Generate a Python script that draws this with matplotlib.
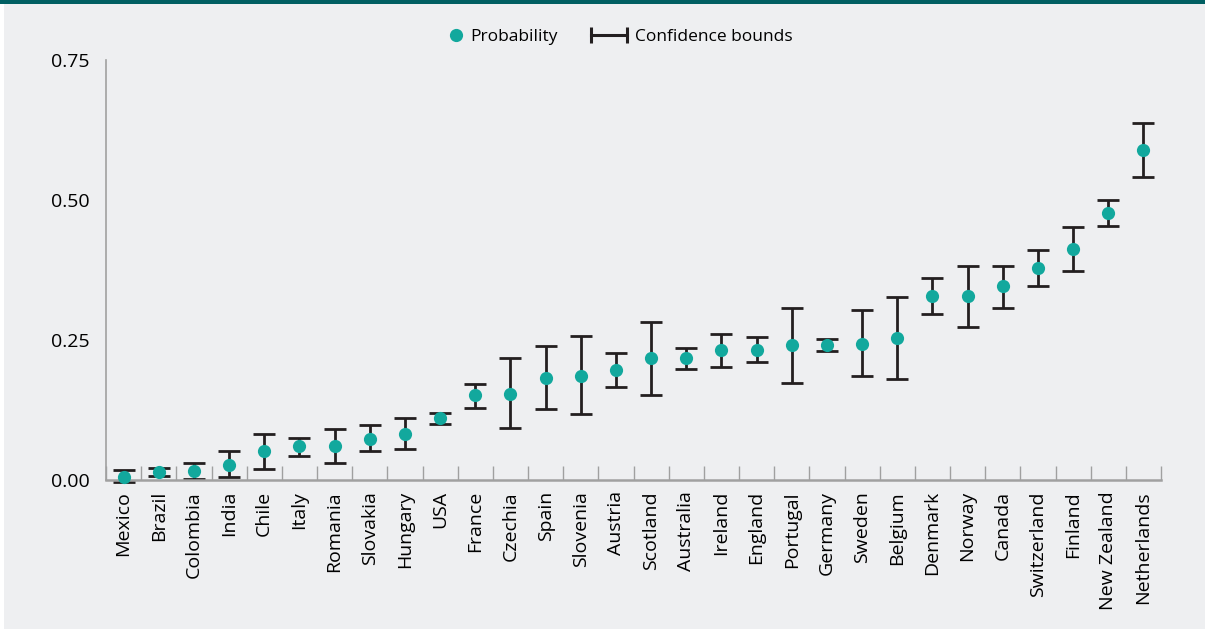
import matplotlib.pyplot as plt
from matplotlib.lines import Line2D
from matplotlib.patches import Rectangle
from matplotlib.legend_handler import HandlerLine2D

plt.rcParams['font.family'] = ['Open Sans', 'DejaVu Sans']

# data
countries = ['Mexico', 'Brazil', 'Colombia', 'India', 'Chile', 'Italy', 'Romania',
             'Slovakia', 'Hungary', 'USA', 'France', 'Czechia', 'Spain', 'Slovenia',
             'Austria', 'Scotland', 'Australia', 'Ireland', 'England', 'Portugal',
             'Germany', 'Sweden', 'Belgium', 'Denmark', 'Norway', 'Canada',
             'Switzerland', 'Finland', 'New Zealand', 'Netherlands']
prob  = [0.006, 0.015, 0.016, 0.027, 0.051, 0.060, 0.060, 0.074, 0.083, 0.110,
         0.151, 0.154, 0.183, 0.186, 0.196, 0.217, 0.218, 0.232, 0.233, 0.241,
         0.241, 0.243, 0.254, 0.329, 0.329, 0.346, 0.378, 0.412, 0.476, 0.589]
lower = [-0.004, 0.008, 0.002, 0.006, 0.019, 0.043, 0.030, 0.052, 0.055, 0.100,
         0.129, 0.092, 0.126, 0.118, 0.166, 0.152, 0.199, 0.201, 0.210, 0.174,
         0.230, 0.185, 0.181, 0.296, 0.274, 0.308, 0.346, 0.373, 0.453, 0.541]
upper = [0.017, 0.022, 0.030, 0.051, 0.083, 0.075, 0.091, 0.098, 0.111, 0.120,
         0.171, 0.217, 0.240, 0.257, 0.227, 0.283, 0.236, 0.261, 0.255, 0.308,
         0.252, 0.304, 0.326, 0.360, 0.383, 0.383, 0.410, 0.452, 0.500, 0.638]
yticks = [0.0, 0.25, 0.50, 0.75]

TEAL = '#12a89d'
DARK = '#231f20'
BG = '#eeeff1'
AXC = '#a0a0a0'

fig = plt.figure(figsize=(12.05, 6.31), dpi=100, facecolor='white')
# grey panel and teal band on top
fig.patches.append(Rectangle((4 / 1205, 2 / 631), 1, 1, transform=fig.transFigure,
                             facecolor=BG, edgecolor='none', zorder=-10))
fig.patches.append(Rectangle((0, 1 - 4 / 631), 1, 4 / 631, transform=fig.transFigure,
                             facecolor='#005f62', edgecolor='none', zorder=-9))

ax = fig.add_axes([106 / 1205, 151 / 631, 1055 / 1205, 420 / 631])
ax.set_facecolor('none')

x = list(range(len(countries)))
yerr = [[p - lo for p, lo in zip(prob, lower)], [u - p for p, u in zip(prob, upper)]]
eb = ax.errorbar(x, prob, yerr=yerr, fmt='none', ecolor=DARK, elinewidth=2.0,
                 capsize=8, capthick=2.0, zorder=2)
for art in eb.lines[1] + eb.lines[2]:
    art.set_clip_on(False)
ax.plot(x, prob, 'o', color=TEAL, markersize=9.5, markeredgewidth=0, zorder=3,
        clip_on=False)

ax.set_xlim(-0.5, len(countries) - 0.5)
ax.set_ylim(0, 0.75)
ax.set_yticks(yticks)
ax.set_yticklabels([f"{t:.2f}" for t in yticks], fontsize=14)
ax.set_xticks(x)
ax.set_xticklabels(countries, rotation=90, fontsize=14)
ax.set_xticks([i - 0.5 for i in range(len(countries) + 1)], minor=True)
ax.tick_params(axis='x', which='major', length=0, pad=8)
ax.tick_params(axis='x', which='minor', direction='in', length=10, width=1, color=AXC)
ax.tick_params(axis='y', length=0, pad=12)

for s in ['top', 'right']:
    ax.spines[s].set_visible(False)
for s in ['left', 'bottom']:
    ax.spines[s].set_color(AXC)
    ax.spines[s].set_linewidth(1.2)
ax.spines['bottom'].set_linewidth(1.8)

# legend: two parts so each handle gets its own length
h_prob = Line2D([], [], linestyle='none', marker='o', color=TEAL, markersize=9.5,
                markeredgewidth=0)
h_conf = Line2D([], [], color=DARK, linewidth=2.2, marker='|', markersize=11,
                markeredgewidth=2.2)
leg_kw = dict(loc='center left', frameon=False, fontsize=12.5,
              borderpad=0, borderaxespad=0)
fig.legend([h_prob], ['Probability'], bbox_to_anchor=(449 / 1205, 1 - 37 / 631),
           handlelength=0.8, handletextpad=0.45, **leg_kw)
fig.legend([h_conf], ['Confidence bounds'],
           handler_map={h_conf: HandlerLine2D(numpoints=2, marker_pad=0)},
           bbox_to_anchor=(591 / 1205, 1 - 37 / 631),
           handlelength=2.1, handletextpad=0.45, **leg_kw)

fig.savefig('out.png', dpi=100, facecolor=fig.get_facecolor())
